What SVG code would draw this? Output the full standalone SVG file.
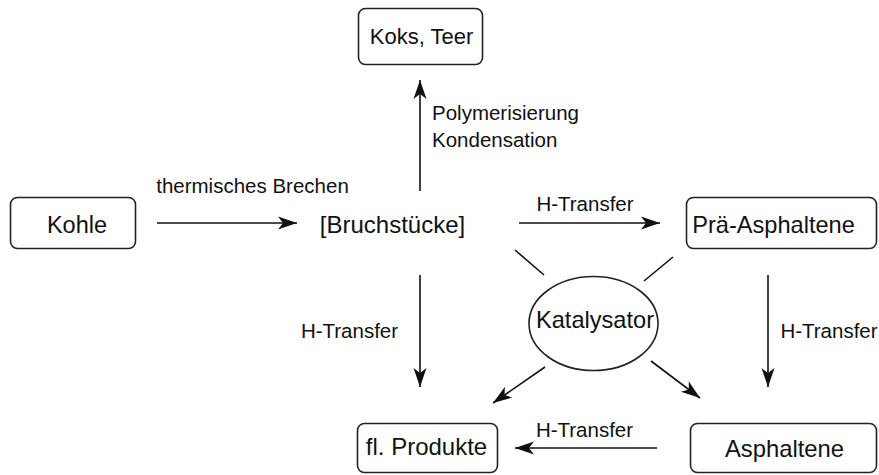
<svg xmlns="http://www.w3.org/2000/svg" width="879" height="475" viewBox="0 0 879 475">
<defs>
<style>
.box{fill:#fff;stroke:#222;stroke-width:1.6}
.node{font-family:"Liberation Sans",Arial,sans-serif;fill:#111;text-anchor:middle}
.lbl{font-family:"Liberation Sans",Arial,sans-serif;fill:#111;font-size:20.5px}
.c{stroke:#111;stroke-width:1.6;fill:none}
</style>
<marker id="ah" markerUnits="userSpaceOnUse" markerWidth="22" markerHeight="14" viewBox="-20 -7 22 14" refX="0" refY="0" orient="auto">
<path d="M0,0 L-19,-6.5 L-14,0 L-19,6.5 Z" fill="#111"/>
</marker>
</defs>
<rect width="879" height="475" fill="#fff"/>
<g id="kohle"><rect class="box" x="10.5" y="197.5" width="125" height="51" rx="7"/><text class="node" x="77" y="233" font-size="23.5">Kohle</text></g>
<g id="koks"><rect class="box" x="358.5" y="8.5" width="124" height="56" rx="7"/><text class="node" x="421.5" y="44" font-size="22">Koks, Teer</text></g>
<g id="bruch"><text class="node" x="392.5" y="233" font-size="24">[Bruchstücke]</text></g>
<g id="prae"><rect class="box" x="686.5" y="197.5" width="190" height="51" rx="7"/><text class="node" x="773.5" y="233" font-size="23.6">Prä-Asphaltene</text></g>
<g id="kat"><ellipse class="box" cx="593.5" cy="323.5" rx="64.5" ry="47"/><text class="node" x="595" y="328" font-size="23.6">Katalysator</text></g>
<g id="produkte"><rect class="box" x="357.5" y="423.5" width="140" height="49" rx="7"/><text class="node" x="426.5" y="455" font-size="24">fl. Produkte</text></g>
<g id="asph"><rect class="box" x="690.5" y="423.5" width="186" height="49" rx="7"/><text class="node" x="784.5" y="457" font-size="23.8">Asphaltene</text></g>
<g id="connectors">
<line class="c" x1="157" y1="223" x2="297" y2="223" marker-end="url(#ah)"/>
<line class="c" x1="420" y1="191" x2="420" y2="80" marker-end="url(#ah)"/>
<line class="c" x1="519" y1="223" x2="660" y2="223" marker-end="url(#ah)"/>
<line class="c" x1="420" y1="275" x2="420" y2="387" marker-end="url(#ah)"/>
<line class="c" x1="768" y1="275" x2="768" y2="387" marker-end="url(#ah)"/>
<line class="c" x1="657" y1="448" x2="515" y2="448" marker-end="url(#ah)"/>
<line class="c" x1="545" y1="367" x2="493" y2="403" marker-end="url(#ah)"/>
<line class="c" x1="651" y1="361" x2="700" y2="398" marker-end="url(#ah)"/>
<line class="c" x1="515" y1="250" x2="544" y2="275"/>
<line class="c" x1="673" y1="257" x2="644" y2="281"/>
<text class="lbl" x="252.5" y="193" text-anchor="middle">thermisches Brechen</text>
<text class="lbl" x="432" y="120">Polymerisierung</text>
<text class="lbl" x="432" y="147">Kondensation</text>
<text class="lbl" x="585" y="211" text-anchor="middle">H-Transfer</text>
<text class="lbl" x="349.5" y="338" text-anchor="middle">H-Transfer</text>
<text class="lbl" x="829" y="338" text-anchor="middle">H-Transfer</text>
<text class="lbl" x="584.5" y="437" text-anchor="middle">H-Transfer</text>
</g>
</svg>
